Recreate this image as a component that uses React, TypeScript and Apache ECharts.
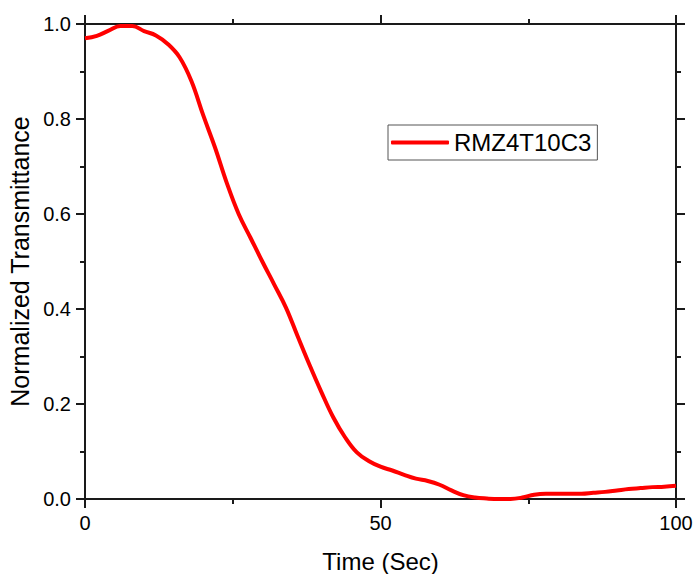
import React, { useEffect, useRef } from "react";
import * as echarts from "echarts";

const seriesName = "RMZ4T10C3";
const timeSec = [0, 2, 4, 6, 8, 10, 12, 14, 16, 18, 20, 22, 24, 26, 28, 30, 32, 34, 36, 38, 40, 42, 44, 46, 48, 50, 52, 54, 56, 58, 60, 62, 64, 66, 68, 70, 72, 74, 76, 78, 80, 82, 84, 86, 88, 90, 92, 94, 96, 98, 100];
const transmittance = [0.970, 0.975, 0.986, 0.996, 0.996, 0.985, 0.976, 0.958, 0.930, 0.880, 0.808, 0.740, 0.665, 0.600, 0.550, 0.500, 0.452, 0.403, 0.342, 0.282, 0.225, 0.172, 0.130, 0.098, 0.080, 0.068, 0.060, 0.051, 0.043, 0.038, 0.030, 0.018, 0.008, 0.003, 0.001, 0.000, 0.000, 0.003, 0.009, 0.011, 0.011, 0.011, 0.011, 0.013, 0.015, 0.018, 0.021, 0.023, 0.025, 0.026, 0.028];
const xTitle = "Time (Sec)";
const yTitle = "Normalized Transmittance";

const FONT = "'Liberation Sans', Arial, sans-serif";
const AX = "#1a1a1a";

export default function App() {
  const ref = useRef<HTMLDivElement>(null);
  useEffect(() => {
    if (!ref.current) return;
    const chart = echarts.init(ref.current, undefined, { renderer: "svg" });
    const data = timeSec.map((t, i) => [t, transmittance[i]]);
    const axisLine = { show: true, onZero: false, lineStyle: { color: AX, width: 2 } };
    const axisTick = { show: true, inside: false, length: 9, lineStyle: { color: AX, width: 2 } };
    const minorTick = { show: true, splitNumber: 2, length: 5, lineStyle: { color: AX, width: 2 } };
    chart.setOption({
      animation: false,
      backgroundColor: "#ffffff",
      textStyle: { fontFamily: FONT },
      grid: { left: 85, right: 17, top: 24, bottom: 75, containLabel: false, outerBoundsMode: "none" },
      legend: {
        show: true,
        left: 388,
        top: 125,
        orient: "horizontal",
        padding: [3, 6, 3, 3],
        borderColor: "#555555",
        borderWidth: 1,
        itemWidth: 58,
        itemHeight: 4,
        itemGap: 5,
        icon: "rect",
        data: [{ name: seriesName, icon: "roundRect" }],
        textStyle: { fontSize: 24, color: "#000", fontFamily: FONT, lineHeight: 29, padding: [0, 0, 0, 0] },
      },
      xAxis: [
        {
          type: "value",
          position: "bottom",
          min: 0,
          max: 100,
          interval: 50,
          name: xTitle,
          nameLocation: "middle",
          nameGap: 50,
          nameTextStyle: { fontSize: 24, color: "#000", fontFamily: FONT },
          axisLine,
          axisTick,
          minorTick,
          splitLine: { show: false },
          axisLabel: { fontSize: 20, color: "#000", margin: 14, fontFamily: FONT },
        },
        {
          type: "value",
          position: "top",
          min: 0,
          max: 100,
          interval: 50,
          axisLine,
          axisTick,
          minorTick,
          splitLine: { show: false },
          axisLabel: { show: false },
        },
      ],
      yAxis: [
        {
          type: "value",
          position: "left",
          min: 0,
          max: 1,
          interval: 0.2,
          name: yTitle,
          nameLocation: "middle",
          nameGap: 52,
          nameTextStyle: { fontSize: 25, color: "#000", fontFamily: FONT },
          axisLine,
          axisTick,
          minorTick,
          splitLine: { show: false },
          axisLabel: { fontSize: 20, color: "#000", margin: 14, fontFamily: FONT, formatter: (v: number) => v.toFixed(1) },
        },
        {
          type: "value",
          position: "right",
          min: 0,
          max: 1,
          interval: 0.2,
          axisLine,
          axisTick,
          minorTick,
          splitLine: { show: false },
          axisLabel: { show: false },
        },
      ],
      series: [
        {
          name: seriesName,
          type: "line",
          xAxisIndex: 0,
          yAxisIndex: 0,
          data,
          smooth: 0.4,
          showSymbol: false,
          symbol: "none",
          clip: false,
          lineStyle: { color: "#ff0000", width: 4 },
          itemStyle: { color: "#ff0000" },
        },
      ],
    });
    return () => chart.dispose();
  }, []);
  return <div ref={ref} style={{ position: "fixed", left: 0, top: 0, width: 693, height: 574 }} />;
}
